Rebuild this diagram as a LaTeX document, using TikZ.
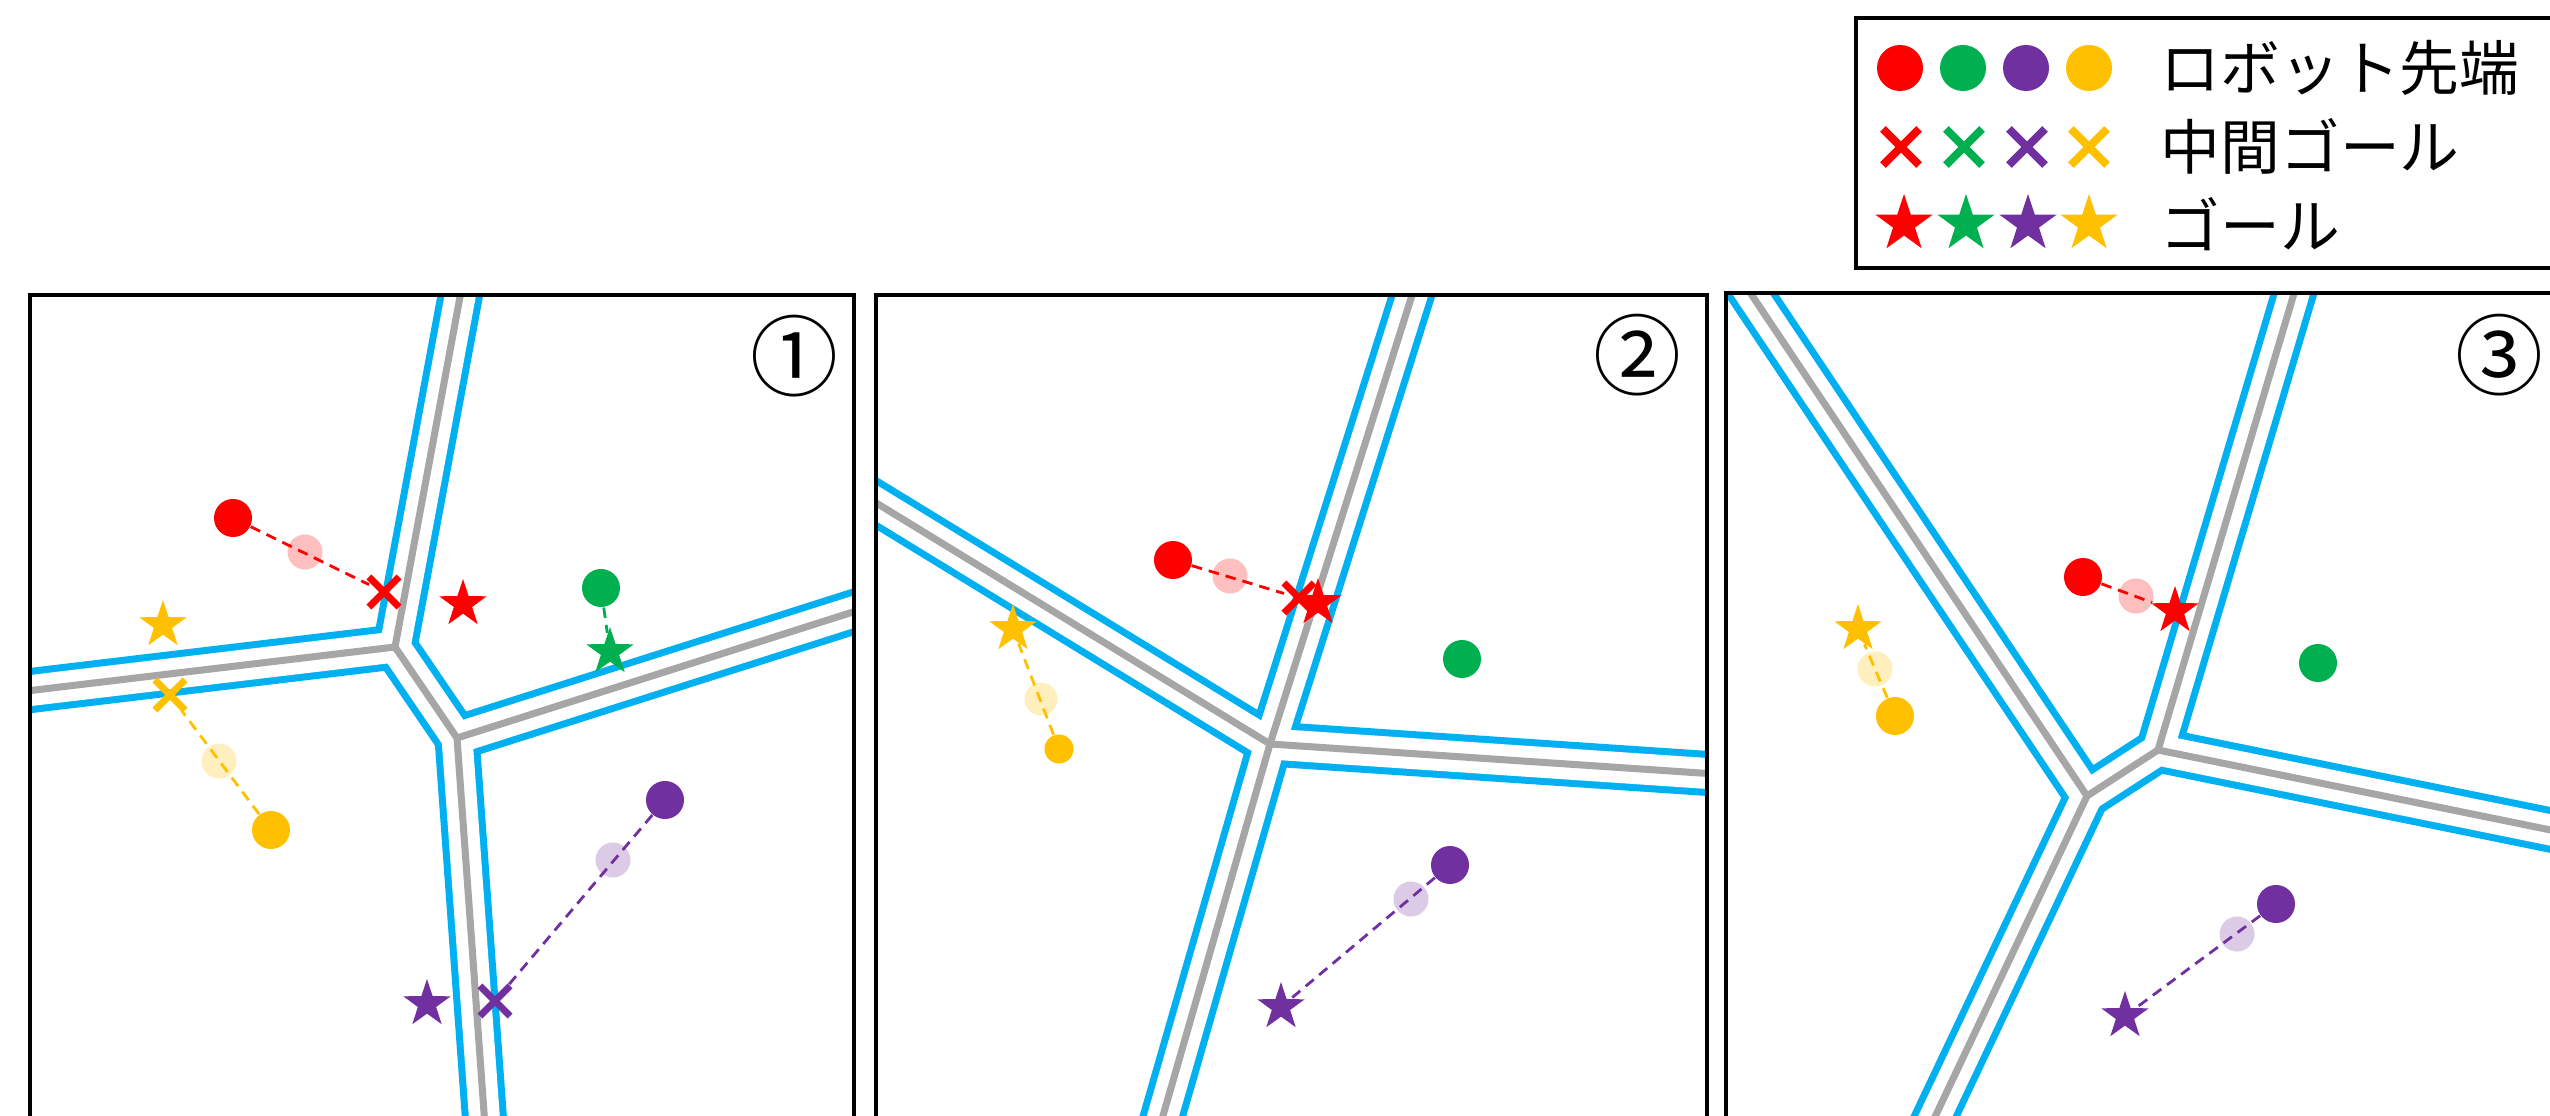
\documentclass[tikz,border=0pt]{standalone}
\usepackage{fontspec}
\newfontfamily\jpfont{Noto Sans CJK JP}
\usetikzlibrary{shapes.geometric,shapes.misc}
\definecolor{rbred}{RGB}{255,0,0}
\definecolor{rbgreen}{RGB}{0,176,80}
\definecolor{rbpurple}{RGB}{112,48,160}
\definecolor{rbyellow}{RGB}{255,192,0}
\definecolor{wallblue}{RGB}{0,176,240}
\definecolor{ridgegray}{RGB}{166,166,166}
\tikzset{
  robot/.style={circle,fill=#1,inner sep=0pt,minimum size=3.8mm},
  ghost/.style={circle,fill=#1!25,inner sep=0pt,minimum size=3.5mm},
  subgoal/.style={cross out,draw=#1,line width=2pt,inner sep=0pt,minimum size=2.3mm},
  goal/.style={star,star points=5,star point ratio=2.6,fill=#1,inner sep=0pt,minimum size=5mm},
  trail/.style={draw=#1,line width=0.8pt,dash pattern=on 3pt off 2pt},
  band/.style={wallblue,line width=12.8pt},
  bandin/.style={white,line width=8.8pt},
  ridge/.style={ridgegray,line width=2pt},
  panel/.style={draw=black,line width=1.3pt},
  num/.style={font=\jpfont\fontsize{25}{25}\selectfont,inner sep=0pt},
  legtext/.style={font=\jpfont\fontsize{17}{17}\selectfont,anchor=west,inner sep=0pt},
}
\newcommand{\ridges}[1]{\draw[band] #1; \draw[bandin] #1; \draw[ridge] #1;}

\begin{document}
\begin{tikzpicture}[x=0.01cm,y=-0.01cm]
\useasboundingbox (0,0) rectangle (2550,1116);
\clip (0,0) rectangle (2550,1116);

% ---- panel 1 : walls ----
\coordinate (a1top) at (465,270);
\coordinate (a1left) at (10,693);
\coordinate (a1right) at (875,605);
\coordinate (a1bot) at (486,1140);
\coordinate (a1j) at (395,647);
\coordinate (a1k) at (457,738);
\begin{scope}
  \clip (30,295) rectangle (854,1140);
  \ridges{(a1top) -- (a1j) (a1left) -- (a1j) (a1j) -- (a1k) (a1right) -- (a1k) (a1bot) -- (a1k)}
\end{scope}
\draw[panel] (30,295) rectangle (854,1140);
\node[num] (num1) at (794,356) {①};

% ---- panel 2 : walls ----
\coordinate (a2top) at (1420,270);
\coordinate (a2left) at (855,490);
\coordinate (a2right) at (1730,775);
\coordinate (a2bot) at (1156,1140);
\coordinate (a2j) at (1270,744);
\begin{scope}
  \clip (876,295) rectangle (1707,1140);
  \ridges{(a2top) -- (a2j) (a2left) -- (a2j) (a2right) -- (a2j) (a2bot) -- (a2j)}
\end{scope}
\draw[panel] (876,295) rectangle (1707,1140);
\node[num] (num2) at (1637,355) {②};

% ---- panel 3 : walls ----
\coordinate (a3left) at (1735,270);
\coordinate (a3top) at (2301,270);
\coordinate (a3right) at (2580,836);
\coordinate (a3bot) at (1924,1140);
\coordinate (a3j) at (2087,796);
\coordinate (a3k) at (2158,750);
\begin{scope}
  \clip (1726,293) rectangle (2600,1140);
  \ridges{(a3left) -- (a3j) (a3bot) -- (a3j) (a3j) -- (a3k) (a3top) -- (a3k) (a3right) -- (a3k)}
\end{scope}
\draw[panel] (1726,293) rectangle (2600,1140);
\node[num] (num3) at (2499,355) {③};

% ---- panel 1 : robots ----
\node[robot=rbred] (redtip1) at (233,518) {};
\node[ghost=rbred] (redpre1) at (305,552) {};
\node[subgoal=rbred] (redsub1) at (384,592) {};
\node[goal=rbred] (redgoal1) at (463,604) {};
\node[robot=rbgreen] (greentip1) at (601,588) {};
\node[goal=rbgreen] (greengoal1) at (610,652) {};
\node[goal=rbyellow] (yelgoal1) at (163,625) {};
\node[subgoal=rbyellow] (yelsub1) at (170,695) {};
\node[ghost=rbyellow] (yelpre1) at (219,761) {};
\node[robot=rbyellow] (yeltip1) at (271,830) {};
\node[robot=rbpurple] (purtip1) at (665,800) {};
\node[ghost=rbpurple] (purpre1) at (613,860) {};
\node[subgoal=rbpurple] (pursub1) at (495,1001) {};
\node[goal=rbpurple] (purgoal1) at (427,1004) {};
\draw[trail=rbred] (redtip1) -- (redsub1);
\draw[trail=rbgreen] (greentip1) -- (greengoal1);
\draw[trail=rbyellow] (yeltip1) -- (yelsub1);
\draw[trail=rbpurple] (purtip1) -- (pursub1);

% ---- panel 2 : robots ----
\node[robot=rbred] (redtip2) at (1173,560) {};
\node[ghost=rbred] (redpre2) at (1230,576) {};
\node[subgoal=rbred] (redsub2) at (1299,598) {};
\node[goal=rbred] (redgoal2) at (1318,603) {};
\node[robot=rbgreen] (greentip2) at (1462,659) {};
\node[goal=rbyellow] (yelgoal2) at (1013,629) {};
\node[ghost=rbyellow,minimum size=3.3mm] (yelpre2) at (1041,699) {};
\node[robot=rbyellow,minimum size=2.9mm] (yeltip2) at (1059,749) {};
\node[robot=rbpurple] (purtip2) at (1450,865) {};
\node[ghost=rbpurple] (purpre2) at (1411,899) {};
\node[goal=rbpurple] (purgoal2) at (1281,1007) {};
\draw[trail=rbred] (redtip2) -- (redsub2);
\draw[trail=rbyellow] (yeltip2) -- (yelgoal2);
\draw[trail=rbpurple] (purtip2) -- (purgoal2);

% ---- panel 3 : robots ----
\node[robot=rbred] (redtip3) at (2083,577) {};
\node[ghost=rbred] (redpre3) at (2136,596) {};
\node[goal=rbred] (redgoal3) at (2175,611) {};
\node[robot=rbgreen] (greentip3) at (2318,663) {};
\node[goal=rbyellow] (yelgoal3) at (1858,629) {};
\node[ghost=rbyellow] (yelpre3) at (1875,669) {};
\node[robot=rbyellow] (yeltip3) at (1895,716) {};
\node[robot=rbpurple] (purtip3) at (2276,904) {};
\node[ghost=rbpurple] (purpre3) at (2237,934) {};
\node[goal=rbpurple] (purgoal3) at (2125,1016) {};
\draw[trail=rbred] (redtip3) -- (redgoal3);
\draw[trail=rbyellow] (yeltip3) -- (yelgoal3);
\draw[trail=rbpurple] (purtip3) -- (purgoal3);

% ---- legend ----
\draw[panel] (1856,18) rectangle (2600,268);
\node[robot=rbred,minimum size=4.6mm] (lgtipR) at (1900,68) {};
\node[robot=rbgreen,minimum size=4.6mm] (lgtipG) at (1963,68) {};
\node[robot=rbpurple,minimum size=4.6mm] (lgtipP) at (2026,68) {};
\node[robot=rbyellow,minimum size=4.6mm] (lgtipY) at (2089,68) {};
\node[subgoal=rbred,minimum size=2.8mm,line width=2.3pt] (lgsubR) at (1901,147) {};
\node[subgoal=rbgreen,minimum size=2.8mm,line width=2.3pt] (lgsubG) at (1964,147) {};
\node[subgoal=rbpurple,minimum size=2.8mm,line width=2.3pt] (lgsubP) at (2027,147) {};
\node[subgoal=rbyellow,minimum size=2.8mm,line width=2.3pt] (lgsubY) at (2089,147) {};
\node[goal=rbred,minimum size=6mm] (lggoalR) at (1904,224) {};
\node[goal=rbgreen,minimum size=6mm] (lggoalG) at (1966,224) {};
\node[goal=rbpurple,minimum size=6mm] (lggoalP) at (2028,224) {};
\node[goal=rbyellow,minimum size=6mm] (lggoalY) at (2089,224) {};
\node[legtext] (lgtip) at (2160,68) {ロボット先端};
\node[legtext] (lgsub) at (2160,146) {中間ゴール};
\node[legtext] (lggoal) at (2160,224) {ゴール};
\end{tikzpicture}
\end{document}
